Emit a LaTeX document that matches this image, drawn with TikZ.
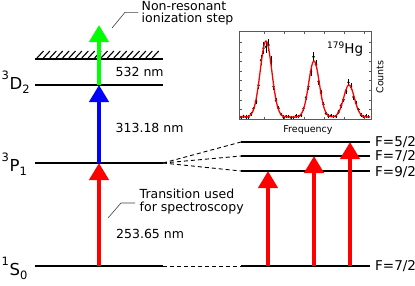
\documentclass[tikz,border=0pt]{standalone}
\usepackage{fontspec}
\setmainfont{DejaVu Sans}
\usetikzlibrary{arrows.meta}
\newcommand\termlabel[3]{{\fontsize{16.5}{18}\selectfont\raisebox{9.3pt}{\fontsize{11.5}{12}\selectfont #1}\kern0.6pt#2\raisebox{-4pt}{\fontsize{11.5}{12}\selectfont #3}}}
\tikzset{
  level/.style={line width=2.2pt},
  sublink/.style={dash pattern=on 4pt off 3pt, line width=0.9pt},
  trans/.style={line width=4.3pt, -{Triangle[width=19pt,length=17pt]}},
  txt/.style={font=\fontsize{12.5}{12.5}\selectfont, anchor=base west, inner sep=0pt},
  flabel/.style={font=\fontsize{13.5}{14}\selectfont, anchor=base west, inner sep=0pt},
  term/.style={anchor=base west, inner sep=0pt},
  leader/.style={line width=0.6pt, black!75},
  plotbox/.style={line width=0.8pt, black!65},
}
\begin{document}
\begin{tikzpicture}[x=1pt,y=-1pt]
\useasboundingbox (0,0) rectangle (415,285);
% ---- levels (left) ----
\coordinate (ionL) at (35,59);   \coordinate (ionR) at (163,59);
\coordinate (dL) at (35,85);     \coordinate (dR) at (163,85);
\coordinate (pL) at (35,163);    \coordinate (pR) at (163,163);
\coordinate (sL) at (35,266);    \coordinate (sR) at (163,266);
% ---- levels (right) ----
\coordinate (f5L) at (241,142);  \coordinate (f5R) at (370,142);
\coordinate (f7L) at (241,156);  \coordinate (f7R) at (370,156);
\coordinate (f9L) at (241,171);  \coordinate (f9R) at (370,171);
\coordinate (gL) at (241,266);   \coordinate (gR) at (370,266);

\draw[level] (ionL) -- (ionR);
\foreach \x in {37,43.4,...,158} \draw[line width=1.1pt] (\x,58) -- (\x+6.5,51);
\draw[level] (dL) -- (dR);
\draw[level] (pL) -- (pR);
\draw[level] (sL) -- (sR);
\draw[level] (f5L) -- (f5R);
\draw[level] (f7L) -- (f7R);
\draw[level] (f9L) -- (f9R);
\draw[level] (gL) -- (gR);

% dashed connectors
\draw[sublink] (pR) -- (f5L);
\draw[sublink] (pR) -- (f7L);
\draw[sublink] (pR) -- (f9L);
\draw[sublink] (sR) -- (gL);

% ---- transitions ----
\coordinate (a0) at (99,266); \coordinate (a1) at (99,163);
\coordinate (a2) at (99,85);  \coordinate (a3) at (99,25);
\draw[trans, red] (a0) -- (a1);
\draw[trans, blue] (a1) -- (a2);
\draw[trans, green] (a2) -- (a3);
\coordinate (r1s) at (268,266); \coordinate (r1e) at (268,171);
\coordinate (r2s) at (314,266); \coordinate (r2e) at (314,156);
\coordinate (r3s) at (350,266); \coordinate (r3e) at (350,142);
\draw[trans, red] (r1s) -- (r1e);
\draw[trans, red] (r2s) -- (r2e);
\draw[trans, red] (r3s) -- (r3e);

% ---- term labels ----
\node[term] (tD) at (1.5,89)  {\termlabel{3}{D}{2}};
\node[term] (tP) at (1.5,171) {\termlabel{3}{P}{1}};
\node[term] (tS) at (1.5,275) {\termlabel{1}{S}{0}};

\node[flabel] (lf5) at (375,146.2) {F=5/2};
\node[flabel] (lf7) at (375,160.7) {F=7/2};
\node[flabel] (lf9) at (375,176)   {F=9/2};
\node[flabel] (lg)  at (375,270.3) {F=7/2};

% ---- wavelengths ----
\node[txt] (w532) at (115.5,76)  {532 nm};
\node[txt] (w313) at (115.5,132) {313.18 nm};
\node[txt] (w253) at (116,238)   {253.65 nm};

% ---- annotations ----
\node[txt] (ion1) at (141.5,10.7) {Non-resonant};
\node[txt] (ion2) at (141.5,22.3) {ionization step};
\coordinate (ionA) at (112,28); \coordinate (ionB) at (125,12.3); \coordinate (ionC) at (138,12.3);
\draw[leader] (ionA) -- (ionB) -- (ionC);
\node[txt] (sp1) at (139.5,198) {Transition used};
\node[txt] (sp2) at (139.5,211) {for spectroscopy};
\coordinate (spA) at (108,218); \coordinate (spB) at (121,203); \coordinate (spC) at (135,203);
\draw[leader] (spA) -- (spB) -- (spC);

% ---- inset spectrum ----
\draw[plotbox] (239,31) rectangle (371,119);
\foreach \y in {42.3,51.9,...,112} {
  \draw[plotbox] (239,\y) -- (241.5,\y);
  \draw[plotbox] (371,\y) -- (368.5,\y);
}
\foreach \x in {264.3,284.3,...,365} {
  \draw[plotbox] (\x,119) -- (\x,116.5);
  \draw[plotbox] (\x,31) -- (\x,33.5);
}
\foreach \x in {241,243.5,...,369} {
  \pgfmathsetmacro\base{117 - 76*exp(max(-15,0-0.5*((\x-266)/5.8)^2)) - 56*exp(max(-15,0-0.5*((\x-314)/5.3)^2)) - 32*exp(max(-15,0-0.5*((\x-349)/5.3)^2))}
  \pgfmathsetmacro\amp{117-\base}
  \pgfmathsetmacro\yy{\base + (0.8+0.07*\amp)*sin(\x*41)}
  \pgfmathsetmacro\ee{1.6+0.06*\amp}
  \draw[black, line width=0.9pt] (\x,\yy-\ee) -- (\x,\yy+\ee);
  \fill[black] (\x,\yy) circle (1.3pt);
}
\draw[red, line width=1.3pt] plot[domain=240:370, samples=261]
  (\x, {117 - 76*exp(max(-15,0-0.5*((\x-266)/5.8)^2)) - 56*exp(max(-15,0-0.5*((\x-314)/5.3)^2)) - 32*exp(max(-15,0-0.5*((\x-349)/5.3)^2))});
\node[anchor=base west, inner sep=0pt, font=\fontsize{13.5}{14}\selectfont] (hg) at (327,53)
  {\raisebox{5pt}{\fontsize{9}{10}\selectfont 179}Hg};
\node[anchor=base, inner sep=0pt, font=\fontsize{9.5}{10}\selectfont] (freq) at (308,132) {Frequency};
\node[anchor=center, inner sep=0pt, rotate=90, font=\fontsize{9.5}{10}\selectfont] (counts) at (380,77) {Counts};
\end{tikzpicture}
\end{document}
